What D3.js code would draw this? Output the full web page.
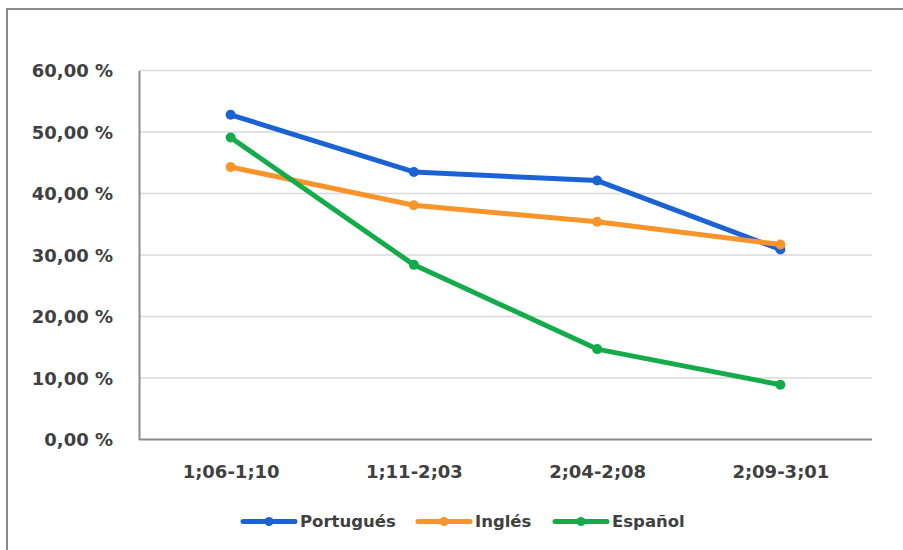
<!DOCTYPE html>
<html>
<head>
<meta charset="utf-8">
<script src="https://cdn.jsdelivr.net/npm/d3@7"></script>
<style>
  html, body { margin: 0; padding: 0; background: #fff; }
  svg { display: block; }
  text { font-family: "DejaVu Sans", sans-serif; font-weight: bold; fill: #404040; }
</style>
</head>
<body>
<svg id="chart" width="903" height="550"></svg>
<script>
// Age ranges (years;months)
const categories = ["1;06-1;10", "1;11-2;03", "2;04-2;08", "2;09-3;01"];
const seriesNames = ["Portugués", "Inglés", "Español"];
const portugues = [52.8, 43.5, 42.1, 30.9];
const ingles = [44.3, 38.1, 35.4, 31.7];
const espanol = [49.1, 28.4, 14.7, 8.9];
const yTicks = [0, 10, 20, 30, 40, 50, 60];
const colors = ["#1b62d3", "#f7952a", "#14ab4b"];

const series = [portugues, ingles, espanol].map((values, i) => ({
  name: seriesNames[i], values, color: colors[i]
}));

const svg = d3.select("#chart");
const width = 903, height = 550;
const margin = { top: 70.5, right: 31, bottom: 110.5, left: 139 };
const plotW = width - margin.left - margin.right;
const plotH = height - margin.top - margin.bottom;

// Outer frame
svg.append("rect")
  .attr("x", 7).attr("y", 9)
  .attr("width", width + 10).attr("height", height + 10)
  .attr("fill", "none").attr("stroke", "#8a8a8a").attr("stroke-width", 2);

const g = svg.append("g").attr("transform", `translate(${margin.left},${margin.top})`);

const x = d3.scalePoint().domain(categories).range([0, plotW]).padding(0.5);
const y = d3.scaleLinear().domain([0, 60]).range([plotH, 0]);

// Horizontal gridlines
g.append("g")
  .selectAll("line")
  .data(yTicks.filter(d => d > 0))
  .join("line")
  .attr("x1", 0).attr("x2", plotW)
  .attr("y1", d => y(d)).attr("y2", d => y(d))
  .attr("stroke", "#d9d9d9").attr("stroke-width", 1.5);

// Y axis
const yAxis = g.append("g")
  .call(d3.axisLeft(y).tickValues(yTicks).tickSize(0).tickPadding(26)
    .tickFormat(d => d3.format(".2f")(d).replace(".", ",") + " %"));
yAxis.select(".domain").attr("stroke", "#8a8a8a").attr("stroke-width", 2);
yAxis.selectAll("text").attr("font-size", 18).attr("dy", "0.35em")
  .attr("font-family", "DejaVu Sans").attr("fill", "#404040");

// X axis
const xAxis = g.append("g").attr("transform", `translate(0,${plotH})`)
  .call(d3.axisBottom(x).tickSize(0).tickPadding(26));
xAxis.select(".domain").attr("stroke", "#8a8a8a").attr("stroke-width", 2)
  .attr("d", `M0,0H${plotW}`);
xAxis.selectAll("text").attr("font-size", 18)
  .attr("font-family", "DejaVu Sans").attr("fill", "#404040");

// Lines and markers
const line = d3.line().x((d, i) => x(categories[i])).y(d => y(d));
series.forEach(s => {
  g.append("path")
    .datum(s.values)
    .attr("d", line)
    .attr("fill", "none")
    .attr("stroke", s.color)
    .attr("stroke-width", 5)
    .attr("stroke-linejoin", "round")
    .attr("stroke-linecap", "round");
  g.append("g")
    .selectAll("circle")
    .data(s.values)
    .join("circle")
    .attr("cx", (d, i) => x(categories[i]))
    .attr("cy", d => y(d))
    .attr("r", 5)
    .attr("fill", s.color);
});

// Legend
const legendY = 521.5;
const legendX = [243, 418, 555];
const legend = svg.append("g");
series.forEach((s, i) => {
  const lg = legend.append("g").attr("transform", `translate(${legendX[i]},${legendY})`);
  lg.append("line").attr("x1", 0).attr("x2", 52).attr("y1", 0).attr("y2", 0)
    .attr("stroke", s.color).attr("stroke-width", 5).attr("stroke-linecap", "round");
  lg.append("circle").attr("cx", 26).attr("cy", 0).attr("r", 4.5).attr("fill", s.color);
  lg.append("text").attr("x", 57).attr("y", 0).attr("dy", "0.36em")
    .attr("font-size", 16.5).text(s.name);
});
</script>
</body>
</html>
